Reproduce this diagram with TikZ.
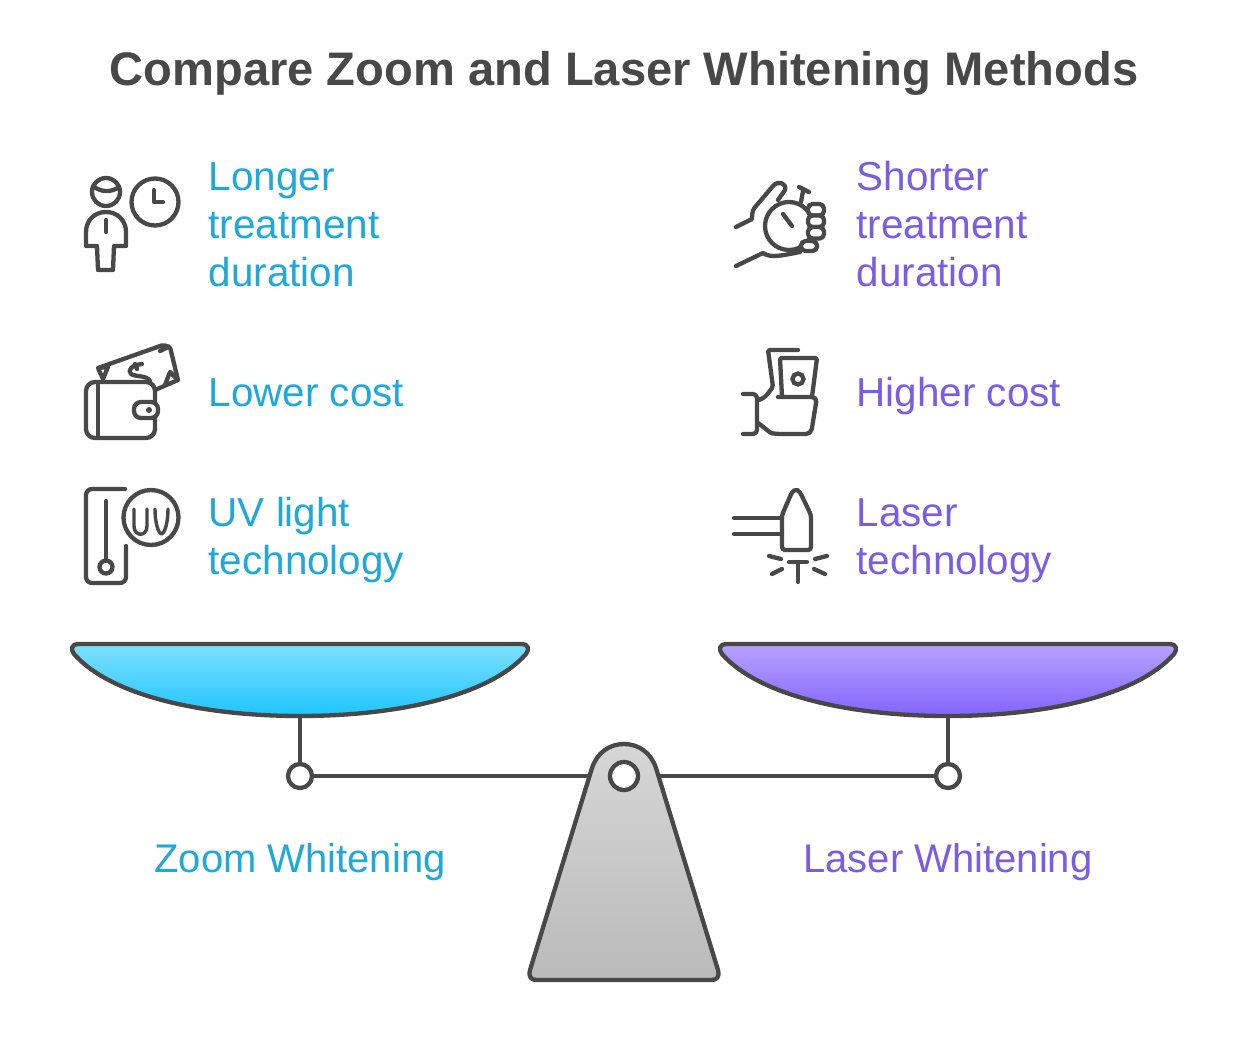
\documentclass[tikz,border=0pt]{standalone}
\usepackage{fontspec}
\setmainfont{Liberation Sans}
\definecolor{ink}{HTML}{484848}
\definecolor{bluetxt}{HTML}{1EA8DC}
\definecolor{purptxt}{HTML}{7B5CE6}
\definecolor{bluetop}{HTML}{7FE0FF}
\definecolor{bluebot}{HTML}{1EC5FF}
\definecolor{purptop}{HTML}{B7A2FF}
\definecolor{purpbot}{HTML}{8464FF}
\definecolor{graytop}{HTML}{D6D6D6}
\definecolor{graybot}{HTML}{BABABA}
\tikzset{
  x=1pt,y=-1pt,
  icon/.style={draw=ink,line width=4.3pt,line cap=round,line join=round,fill=none},
  iconfill/.style={icon,fill=white},
  ring/.style={circle,draw=ink,line width=4.3pt,inner sep=0pt,fill=white},
  scaleline/.style={draw=ink,line width=4.3pt,line join=round},
  pivot/.style={circle,draw=ink,line width=4.3pt,inner sep=0pt,minimum size=24pt,fill=white},
  body/.style={font=\fontsize{40.4}{48}\selectfont,align=left,anchor=west,inner sep=0pt},
  caption/.style={font=\fontsize{40}{48}\selectfont,align=center,anchor=center,inner sep=0pt},
}
\begin{document}
\begin{tikzpicture}
\useasboundingbox (0,0) rectangle (1248,1050);
\fill[white] (0,0) rectangle (1248,1050);
\node[font=\bfseries\fontsize{47.1}{56}\selectfont,text=ink,inner sep=0pt] (title) at (624,73) {Compare Zoom and Laser Whitening Methods};

% texts
\node[body,text=bluetxt] (t1) at (208.5,229) {Longer\strut\\treatment\strut\\duration\strut};
\node[body,text=bluetxt] (t2) at (208.5,397) {Lower cost\strut};
\node[body,text=bluetxt] (t3) at (208.5,541) {UV light\strut\\technology\strut};
\node[body,text=purptxt] (t4) at (856.5,229) {Shorter\strut\\treatment\strut\\duration\strut};
\node[body,text=purptxt] (t5) at (856.5,397) {Higher cost\strut};
\node[body,text=purptxt] (t6) at (856.5,541) {Laser\strut\\technology\strut};
\node[caption,text=bluetxt] (c1) at (300,863) {Zoom Whitening\strut};
\node[caption,text=purptxt] (c2) at (948,863) {Laser Whitening\strut};

% icon: person and clock
\node[ring,minimum size=28pt] (head) at (106,192) {};
\draw[icon] (93,186) .. controls (100,192) and (111,193) .. (119,187);
\node[ring,minimum size=47pt] (clock) at (155,202) {};
\draw[icon] (154,190) -- (154,202) -- (163,202);
\draw[icon] (86,246) -- (86,232) .. controls (86,220) and (95,212) .. (106,212) .. controls (117,212) and (126,220) .. (126,232) -- (126,246) -- (114,246) -- (113,270) -- (98,270) -- (97,246) -- cycle;
\draw[icon] (106,220) -- (106,232);

% icon: wallet
\draw[icon,rounded corners=1.5pt] (103,379) -- (98,368) -- (163,345) -- (170,347) -- (178,380) -- (155,390);
\draw[icon] (98,368) -- (108,367) -- (103,379);
\draw[icon] (160,351) -- (168,347);
\draw[icon] (178,380) -- (170,372) -- (165,385);
\draw[icon] (142,364) .. controls (132,365) and (127,370) .. (131,374) .. controls (135,377) and (147,375) .. (150,381);
\draw[icon] (135,364) -- (137,369);
\draw[iconfill,rounded corners=9pt] (86,382) rectangle (155,438);
\draw[icon] (98,382) -- (98,438);
\draw[iconfill,rounded corners=7pt] (134,402) rectangle (158,418);
\fill[ink] (149,410) circle[radius=3pt];

% icon: UV
\draw[icon,rounded corners=6pt] (125,489) -- (86,489) -- (86,583) -- (126,583) -- (126,546);
\draw[icon] (106,501) -- (106,560);
\node[ring,minimum size=13pt] (bulb) at (106,567) {};
\node[ring,minimum size=55pt] (uv) at (151,517.5) {};
\draw[icon,line width=3.4pt] (134,509) -- (134,526) .. controls (134,537) and (147,537) .. (147,526) -- (147,509);
\draw[icon,line width=3.4pt] (155,509) .. controls (155,522) and (158,533) .. (161.5,534) .. controls (165,533) and (168,522) .. (168,509);

% icon: stopwatch in hand
\draw[icon] (736,227) -- (752,219) .. controls (752,212) and (753,209) .. (756,206) -- (773,186) .. controls (778,180) and (787,183) .. (785,190) -- (778,200);
\draw[icon] (736,266) -- (763,253) .. controls (770,258) and (780,256) .. (800,252);
\node[ring,minimum size=48pt] (watch) at (789,226) {};
\draw[icon] (801,202) -- (803,191);
\draw[icon] (799,187) -- (809,192);
\draw[icon] (783,214) -- (792,226);
\draw[iconfill,rounded corners=4.5pt] (808,204) rectangle (824,215.5);
\draw[iconfill,rounded corners=4.5pt] (808,215.5) rectangle (824,227);
\draw[iconfill,rounded corners=4.5pt] (808,227) rectangle (824,238.5);
\draw[iconfill,rounded corners=4.5pt] (801,241) rectangle (817,251);

% icon: hand with money
\draw[icon,rounded corners=2pt] (798,350) -- (768,350) -- (773,387) -- (765,397) -- (759,400);
\draw[icon,rounded corners=2pt] (782,397) -- (780,358) -- (817,358) -- (812,397);
\node[ring,minimum size=11pt] (coin) at (798,379) {};
\draw[icon,rounded corners=5pt] (778,397) -- (817,397) -- (811,434) -- (777,434) .. controls (770,433) and (765,428) .. (758,423);
\draw[icon,rounded corners=4pt] (743,394) -- (757,394) -- (757,434) -- (743,434);

% icon: laser
\draw[icon] (734,518) -- (782,518);
\draw[icon] (734,534) -- (782,534);
\draw[icon,rounded corners=3pt] (782,515) -- (792,492) -- (796,489) -- (800,492) -- (811,515) -- (811,550) -- (782,550) -- cycle;
\draw[icon] (789,562) -- (807,562);
\draw[icon] (798,562) -- (798,582);
\draw[icon] (769,556) -- (781,559);
\draw[icon] (772,574) -- (782,569);
\draw[icon] (827,556) -- (815,559);
\draw[icon] (825,574) -- (814,569);

% scale
\coordinate (bl) at (300,716);
\coordinate (br) at (948,716);
\node[pivot] (pl) at (300,776) {};
\node[pivot] (pr) at (948,776) {};
\coordinate (fh) at (624,776);
\draw[scaleline] (bl) -- (pl);
\draw[scaleline] (br) -- (pr);
\draw[scaleline] (pl) -- (fh);
\draw[scaleline] (pr) -- (fh);
\draw[scaleline,top color=bluetop,bottom color=bluebot] (78,644) -- (522,644) .. controls (528,644) and (530,649) .. (526,654) .. controls (490,695) and (400,716) .. (300,716) .. controls (200,716) and (110,695) .. (74,654) .. controls (70,649) and (72,644) .. (78,644) -- cycle;
\draw[scaleline,top color=purptop,bottom color=purpbot] (726,644) -- (1170,644) .. controls (1176,644) and (1178,649) .. (1174,654) .. controls (1138,695) and (1048,716) .. (948,716) .. controls (848,716) and (758,695) .. (722,654) .. controls (718,649) and (720,644) .. (726,644) -- cycle;
\draw[scaleline,top color=graytop,bottom color=graybot] (592,768) .. controls (597,753) and (609,744) .. (624,744) .. controls (639,744) and (651,753) .. (656,768) -- (718,970) .. controls (720,976) and (717,980) .. (712,980) -- (536,980) .. controls (531,980) and (528,976) .. (530,970) -- cycle;
\node[pivot,minimum size=28pt] (hole) at (fh) {};
\end{tikzpicture}
\end{document}
